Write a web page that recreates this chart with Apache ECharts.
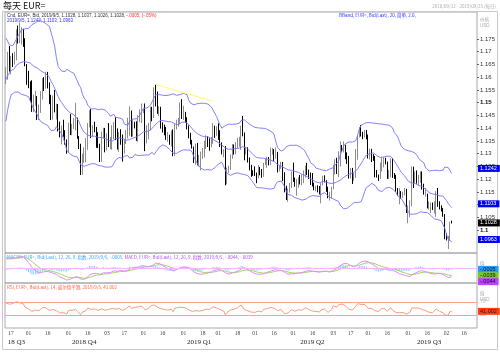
<!DOCTYPE html>
<html>
<head>
<meta charset="utf-8">
<script src="https://cdn.jsdelivr.net/npm/echarts@6/dist/echarts.min.js"></script>
<style>
  html, body { margin: 0; background: #fff; }
  #main { width: 500px; height: 352px; }
</style>
</head>
<body>
<div id="main"></div>
<script>
// 数据从 2018-08-15 开始，前 20 天只用于布林带/MACD/RSI 预热，图上从 2018-09-12 开始显示
var dataStart = '2018-08-15';
var viewStart = '2018-09-12';
var viewEnd = '2019-09-25';

// 每天 EUR= 的 [开, 高, 低, 收]，按月一行
var ohlc = [
  // 2018-08
  [1.1345,1.1350,1.1301,1.1345],[1.1345,1.1395,1.1341,1.1376],[1.1376,1.1444,1.1366,1.1438],[1.1438,1.1487,1.1423,1.1476],[1.1476,1.1570,1.1465,1.1570],[1.1570,1.1623,1.1545,1.1597],[1.1597,1.1600,1.1528,1.1540],[1.1540,1.1624,1.1530,1.1622],[1.1622,1.1690,1.1606,1.1680],[1.1680,1.1733,1.1668,1.1703],[1.1703,1.1712,1.1653,1.1707],[1.1707,1.1734,1.1661,1.1670],[1.1670,1.1682,1.1588,1.1601],
  // 2018-09
  [1.1601,1.1624,1.1571,1.1621],[1.1621,1.1625,1.1527,1.1583],[1.1583,1.1642,1.1512,1.1627],[1.1627,1.1667,1.1607,1.1622],[1.1622,1.1642,1.1532,1.1553],[1.1553,1.1605,1.1530,1.1597],[1.1597,1.1649,1.1570,1.1600],
  [1.1600,1.1640,1.1573,1.1627],[1.1627,1.1700,1.1590,1.1688],[1.1688,1.1722,1.1622,1.1625],[1.1625,1.1683,1.1611,1.1683],[1.1683,1.1694,1.1640,1.1667],[1.1667,1.1700,1.1650,1.1671],[1.1671,1.1788,1.1666,1.1778],[1.1778,1.1803,1.1732,1.1746],[1.1746,1.1815,1.1734,1.1748],[1.1748,1.1796,1.1728,1.1774],[1.1774,1.1790,1.1719,1.1739],[1.1739,1.1753,1.1643,1.1642],[1.1642,1.1652,1.1570,1.1604],
  // 2018-10
  [1.1604,1.1625,1.1557,1.1577],[1.1577,1.1584,1.1504,1.1547],[1.1547,1.1588,1.1464,1.1481],[1.1481,1.1532,1.1463,1.1513],[1.1513,1.1547,1.1488,1.1524],[1.1524,1.1526,1.1432,1.1490],[1.1490,1.1493,1.1432,1.1490],[1.1490,1.1545,1.1460,1.1520],[1.1520,1.1596,1.1512,1.1593],[1.1593,1.1600,1.1546,1.1561],[1.1561,1.1621,1.1555,1.1580],[1.1580,1.1621,1.1556,1.1573],[1.1573,1.1580,1.1494,1.1502],[1.1502,1.1531,1.1432,1.1452],[1.1452,1.1528,1.1433,1.1514],[1.1514,1.1550,1.1462,1.1464],[1.1464,1.1496,1.1434,1.1469],[1.1469,1.1495,1.1387,1.1393],[1.1393,1.1426,1.1364,1.1374],[1.1374,1.1410,1.1336,1.1400],[1.1400,1.1433,1.1366,1.1374],[1.1374,1.1392,1.1335,1.1346],[1.1346,1.1356,1.1300,1.1312],
  // 2018-11
  [1.1312,1.1421,1.1303,1.1408],[1.1408,1.1456,1.1373,1.1385],[1.1385,1.1417,1.1372,1.1405],[1.1405,1.1440,1.1397,1.1427],[1.1427,1.1500,1.1391,1.1430],[1.1430,1.1441,1.1358,1.1362],[1.1362,1.1369,1.1318,1.1336],[1.1336,1.1339,1.1216,1.1224],[1.1224,1.1300,1.1217,1.1294],[1.1294,1.1325,1.1264,1.1309],[1.1309,1.1361,1.1266,1.1332],[1.1332,1.1420,1.1315,1.1416],[1.1416,1.1472,1.1403,1.1454],[1.1454,1.1475,1.1361,1.1370],[1.1370,1.1412,1.1369,1.1404],[1.1404,1.1425,1.1384,1.1387],[1.1387,1.1405,1.1323,1.1337],[1.1337,1.1384,1.1322,1.1329],[1.1329,1.1339,1.1267,1.1289],[1.1289,1.1387,1.1268,1.1369],[1.1369,1.1401,1.1360,1.1394],[1.1394,1.1401,1.1305,1.1316],
  // 2018-12
  [1.1316,1.1380,1.1312,1.1352],[1.1352,1.1420,1.1326,1.1341],[1.1341,1.1365,1.1317,1.1342],[1.1342,1.1411,1.1316,1.1375],[1.1375,1.1424,1.1357,1.1406],[1.1406,1.1443,1.1353,1.1354],[1.1354,1.1399,1.1316,1.1318],[1.1318,1.1385,1.1307,1.1369],[1.1369,1.1396,1.1335,1.1368],[1.1368,1.1375,1.1269,1.1305],[1.1305,1.1356,1.1300,1.1345],[1.1345,1.1392,1.1338,1.1362],[1.1362,1.1441,1.1360,1.1375],[1.1375,1.1486,1.1370,1.1450],[1.1450,1.1469,1.1366,1.1370],[1.1370,1.1435,1.1367,1.1418],[1.1418,1.1425,1.1399,1.1409],[1.1409,1.1427,1.1350,1.1353],[1.1353,1.1451,1.1347,1.1432],[1.1432,1.1474,1.1423,1.1439],[1.1439,1.1497,1.1420,1.1466],
  // 2019-01
  [1.1466,1.1475,1.1459,1.1466],[1.1466,1.1497,1.1310,1.1343],[1.1343,1.1412,1.1340,1.1394],[1.1394,1.1420,1.1356,1.1395],[1.1395,1.1484,1.1391,1.1474],[1.1474,1.1484,1.1427,1.1441],[1.1441,1.1560,1.1440,1.1541],[1.1541,1.1570,1.1485,1.1502],[1.1502,1.1544,1.1456,1.1468],[1.1468,1.1487,1.1447,1.1470],[1.1470,1.1484,1.1398,1.1411],[1.1411,1.1423,1.1383,1.1394],[1.1394,1.1414,1.1372,1.1390],[1.1390,1.1405,1.1354,1.1364],[1.1364,1.1385,1.1347,1.1364],[1.1364,1.1374,1.1335,1.1361],[1.1361,1.1391,1.1328,1.1385],[1.1385,1.1395,1.1290,1.1303],[1.1303,1.1418,1.1290,1.1405],[1.1405,1.1433,1.1395,1.1430],[1.1430,1.1440,1.1406,1.1436],[1.1436,1.1501,1.1416,1.1482],[1.1482,1.1514,1.1436,1.1445],
  // 2019-02
  [1.1445,1.1488,1.1432,1.1456],[1.1456,1.1464,1.1422,1.1436],[1.1436,1.1443,1.1395,1.1408],[1.1408,1.1411,1.1360,1.1374],[1.1374,1.1382,1.1336,1.1341],[1.1341,1.1354,1.1320,1.1323],[1.1323,1.1328,1.1263,1.1275],[1.1275,1.1339,1.1257,1.1327],[1.1327,1.1342,1.1254,1.1265],[1.1265,1.1295,1.1249,1.1295],[1.1295,1.1308,1.1234,1.1295],[1.1295,1.1322,1.1280,1.1311],[1.1311,1.1350,1.1285,1.1340],[1.1340,1.1372,1.1318,1.1342],[1.1342,1.1368,1.1326,1.1338],[1.1338,1.1360,1.1311,1.1337],[1.1337,1.1366,1.1325,1.1357],[1.1357,1.1420,1.1338,1.1395],[1.1395,1.1410,1.1362,1.1371],[1.1371,1.1408,1.1370,1.1372],
  // 2019-03
  [1.1372,1.1419,1.1354,1.1363],[1.1363,1.1392,1.1326,1.1338],[1.1338,1.1344,1.1297,1.1307],[1.1307,1.1317,1.1286,1.1308],[1.1308,1.1330,1.1176,1.1194],[1.1194,1.1245,1.1180,1.1235],[1.1235,1.1253,1.1225,1.1246],[1.1246,1.1297,1.1236,1.1287],[1.1287,1.1338,1.1280,1.1327],[1.1327,1.1336,1.1296,1.1305],[1.1305,1.1345,1.1298,1.1325],[1.1325,1.1362,1.1322,1.1340],[1.1340,1.1366,1.1327,1.1350],[1.1350,1.1410,1.1315,1.1414],[1.1414,1.1448,1.1368,1.1373],[1.1373,1.1383,1.1274,1.1302],[1.1302,1.1326,1.1297,1.1312],[1.1312,1.1325,1.1265,1.1266],[1.1266,1.1285,1.1234,1.1250],[1.1250,1.1256,1.1209,1.1222],[1.1222,1.1235,1.1213,1.1218],
  // 2019-04
  [1.1218,1.1250,1.1212,1.1216],[1.1216,1.1226,1.1184,1.1208],[1.1208,1.1255,1.1203,1.1235],[1.1235,1.1248,1.1215,1.1220],[1.1220,1.1240,1.1205,1.1216],[1.1216,1.1264,1.1209,1.1260],[1.1260,1.1282,1.1255,1.1263],[1.1263,1.1288,1.1245,1.1276],[1.1276,1.1287,1.1254,1.1255],[1.1255,1.1324,1.1255,1.1297],[1.1297,1.1323,1.1296,1.1306],[1.1306,1.1318,1.1270,1.1286],[1.1286,1.1324,1.1280,1.1295],[1.1295,1.1307,1.1226,1.1235],[1.1235,1.1252,1.1230,1.1243],[1.1243,1.1268,1.1240,1.1256],[1.1256,1.1267,1.1192,1.1224],[1.1224,1.1227,1.1148,1.1153],[1.1153,1.1174,1.1118,1.1130],[1.1130,1.1164,1.1111,1.1149],[1.1149,1.1185,1.1147,1.1183],[1.1183,1.1230,1.1165,1.1214],
  // 2019-05
  [1.1214,1.1265,1.1189,1.1193],[1.1193,1.1206,1.1170,1.1172],[1.1172,1.1200,1.1135,1.1200],[1.1200,1.1207,1.1166,1.1201],[1.1201,1.1216,1.1179,1.1191],[1.1191,1.1218,1.1176,1.1191],[1.1191,1.1234,1.1184,1.1215],[1.1215,1.1252,1.1206,1.1234],[1.1234,1.1264,1.1216,1.1223],[1.1223,1.1237,1.1201,1.1205],[1.1205,1.1226,1.1177,1.1202],[1.1202,1.1224,1.1171,1.1174],[1.1174,1.1186,1.1156,1.1157],[1.1157,1.1174,1.1152,1.1164],[1.1164,1.1176,1.1148,1.1160],[1.1160,1.1173,1.1140,1.1152],[1.1152,1.1184,1.1105,1.1181],[1.1181,1.1213,1.1175,1.1204],[1.1204,1.1215,1.1187,1.1192],[1.1192,1.1196,1.1150,1.1160],[1.1160,1.1170,1.1125,1.1131],[1.1131,1.1150,1.1116,1.1131],[1.1131,1.1170,1.1124,1.1167],
  // 2019-06
  [1.1167,1.1256,1.1160,1.1240],[1.1240,1.1278,1.1218,1.1253],[1.1253,1.1284,1.1220,1.1221],[1.1221,1.1309,1.1208,1.1275],[1.1275,1.1348,1.1249,1.1332],[1.1332,1.1334,1.1307,1.1314],[1.1314,1.1348,1.1305,1.1327],[1.1327,1.1335,1.1278,1.1286],[1.1286,1.1305,1.1260,1.1275],[1.1275,1.1291,1.1202,1.1208],[1.1208,1.1243,1.1202,1.1220],[1.1220,1.1244,1.1181,1.1194],[1.1194,1.1225,1.1193,1.1220],[1.1220,1.1318,1.1204,1.1293],[1.1293,1.1372,1.1276,1.1370],[1.1370,1.1404,1.1364,1.1399],[1.1399,1.1412,1.1367,1.1368],[1.1368,1.1386,1.1357,1.1366],[1.1366,1.1392,1.1363,1.1372],[1.1372,1.1393,1.1356,1.1369],
  // 2019-07
  [1.1369,1.1375,1.1281,1.1284],[1.1284,1.1320,1.1277,1.1288],[1.1288,1.1319,1.1267,1.1285],[1.1285,1.1298,1.1272,1.1284],[1.1284,1.1291,1.1207,1.1225],[1.1225,1.1236,1.1206,1.1213],[1.1213,1.1218,1.1193,1.1209],[1.1209,1.1265,1.1200,1.1252],[1.1252,1.1286,1.1230,1.1256],[1.1256,1.1285,1.1246,1.1272],[1.1272,1.1284,1.1258,1.1262],[1.1262,1.1269,1.1201,1.1210],[1.1210,1.1236,1.1200,1.1223],[1.1223,1.1282,1.1207,1.1276],[1.1276,1.1283,1.1205,1.1220],[1.1220,1.1224,1.1201,1.1208],[1.1208,1.1217,1.1150,1.1150],[1.1150,1.1165,1.1135,1.1140],[1.1140,1.1164,1.1101,1.1143],[1.1143,1.1153,1.1123,1.1127],[1.1127,1.1150,1.1126,1.1139],[1.1139,1.1165,1.1136,1.1156],[1.1156,1.1162,1.1067,1.1075],
  // 2019-08
  [1.1075,1.1096,1.1027,1.1082],[1.1082,1.1117,1.1050,1.1108],[1.1108,1.1250,1.1093,1.1202],[1.1202,1.1249,1.1165,1.1199],[1.1199,1.1230,1.1185,1.1201],[1.1201,1.1234,1.1182,1.1182],[1.1182,1.1217,1.1176,1.1201],[1.1201,1.1231,1.1186,1.1215],[1.1215,1.1230,1.1159,1.1171],[1.1171,1.1182,1.1139,1.1138],[1.1138,1.1165,1.1131,1.1140],[1.1140,1.1143,1.1085,1.1090],[1.1090,1.1113,1.1080,1.1093],[1.1093,1.1108,1.1066,1.1096],[1.1096,1.1108,1.1079,1.1082],[1.1082,1.1113,1.1065,1.1084],[1.1084,1.1153,1.1052,1.1143],[1.1143,1.1165,1.1091,1.1099],[1.1099,1.1113,1.1081,1.1088],[1.1088,1.1097,1.1073,1.1078],[1.1078,1.1087,1.1052,1.1056],[1.1056,1.1063,1.0964,1.0985],
  // 2019-09
  [1.0985,1.0987,1.0959,1.0970],[1.0970,1.0977,1.0926,1.0973],[1.0973,1.1033,1.0958,1.1033],[1.1028,1.1037,1.1026,1.1028]
];

// 右侧价格刻度
var priceTicks = [1.1, 1.105, 1.11, 1.115, 1.12, 1.125, 1.13, 1.135, 1.14, 1.145, 1.15, 1.155, 1.16, 1.165, 1.17, 1.175];
// 底部日期刻度
var dayTicks = ['2018-09-17','2018-10-01','2018-10-16','2018-11-01','2018-11-16','2018-12-03','2018-12-17',
  '2019-01-01','2019-01-16','2019-02-01','2019-02-18','2019-03-01','2019-03-18','2019-04-01','2019-04-16',
  '2019-05-01','2019-05-16','2019-06-03','2019-06-17','2019-07-01','2019-07-16','2019-08-01','2019-08-16',
  '2019-09-02','2019-09-16'];
var quarterStarts = ['2018-10-01', '2019-01-01', '2019-04-01', '2019-07-01'];
var quarterNames = { '2018-09-20': '18 Q3', '2018-11-14': '2018 Q4', '2019-02-14': '2019 Q1', '2019-05-16': '2019 Q2', '2019-08-19': '2019 Q3' };
// 黄色趋势线
var trendLine = [['2019-01-10', 1.1572], ['2019-02-26', 1.1505]];
// 图上最后一天的读数
var lastClose = 1.1028;
var lastBand = [1.1242, 1.1103, 1.0963];
var lastMacd = [-0.0005, -0.0039, -0.0044]; // MACDF, 信号, MACD
var lastRsi = 41.002;

function weekdays(from, to) {
  var out = [];
  var d = new Date(from + 'T00:00:00Z');
  var end = new Date(to + 'T00:00:00Z');
  while (d <= end) {
    var w = d.getUTCDay();
    if (w !== 0 && w !== 6) out.push(d.toISOString().slice(0, 10));
    d.setUTCDate(d.getUTCDate() + 1);
  }
  return out;
}

var allDates = weekdays(dataStart, viewEnd);
var skip = allDates.indexOf(viewStart);
var dates = allDates.slice(skip);
var closes = ohlc.map(function (r) { return r[3]; });

// 布林带 20, 2.0
var bbUp = [], bbMid = [], bbLow = [];
closes.forEach(function (c, i) {
  if (i < 19) { bbUp.push('-'); bbMid.push('-'); bbLow.push('-'); return; }
  var win = closes.slice(i - 19, i + 1);
  var m = win.reduce(function (a, b) { return a + b; }, 0) / 20;
  var sd = Math.sqrt(win.reduce(function (a, b) { return a + (b - m) * (b - m); }, 0) / 20);
  bbMid.push(m); bbUp.push(m + 2 * sd); bbLow.push(m - 2 * sd);
});

// MACD 12, 26, 9
function ema(arr, n) {
  var k = 2 / (n + 1), prev, out = [];
  arr.forEach(function (v, i) { prev = i ? v * k + prev * (1 - k) : v; out.push(prev); });
  return out;
}
var e12 = ema(closes, 12), e26 = ema(closes, 26);
var macd = e12.map(function (v, i) { return v - e26[i]; });
var signal = ema(macd, 9);
var hist = macd.map(function (v, i) { return v - signal[i]; });

// RSI 14 威尔德平滑
var rsi = [], ag = 0, al = 0;
closes.forEach(function (c, i) {
  if (i === 0) { rsi.push('-'); return; }
  var ch = c - closes[i - 1], g = Math.max(ch, 0), l = Math.max(-ch, 0);
  if (i <= 14) { ag += g / 14; al += l / 14; }
  else { ag = (ag * 13 + g) / 14; al = (al * 13 + l) / 14; }
  rsi.push(i < 14 ? '-' : 100 - 100 / (1 + ag / al));
});

function cut(arr) { return arr.slice(skip); }
var candles = cut(ohlc).map(function (r) { return [r[0], r[3], r[2], r[1]]; });

// 右侧的最新值标签（透明的 markLine，只留标签）
var hidden = { color: 'rgba(0,0,0,0)', width: 0 };
var tagLabel = { position: 'end', distance: 1, fontSize: 5.5, fontFamily: 'Liberation Sans', padding: [1, 3, 0, 2] };
function tag(v, text, bg, fg, dy) {
  return { yAxis: v, lineStyle: hidden,
    label: { show: true, formatter: text, backgroundColor: bg, color: fg, offset: [0, dy || 0] } };
}
function line(v, color) {
  return { yAxis: v, lineStyle: { color: color, width: 1, type: 'solid' }, label: { show: false } };
}
function marks(list) {
  return { silent: true, symbol: 'none', animation: false, precision: 4, label: tagLabel, data: list };
}

var chart = echarts.init(document.getElementById('main'), null, { renderer: 'canvas' });
var L = 5, R = 23, bandColor = '#7373ff';
var fontAxis = 'Liberation Sans';

var option = {
  animation: false,
  backgroundColor: '#fff',
  grid: [
    { left: L, right: R, top: 12, height: 241, show: true, borderColor: '#a8a8a8', borderWidth: 1 },
    { left: L, right: R, top: 253, height: 30, show: true, borderColor: '#a8a8a8', borderWidth: 1 },
    { left: L, right: R, top: 283, height: 45, show: true, borderColor: '#a8a8a8', borderWidth: 1 }
  ],
  xAxis: [
    { type: 'category', gridIndex: 0, data: dates, axisLine: { show: false }, axisTick: { show: false }, axisLabel: { show: false } },
    { type: 'category', gridIndex: 1, data: dates, axisLine: { show: false }, axisTick: { show: false }, axisLabel: { show: false } },
    {
      type: 'category', gridIndex: 2, data: dates, axisLine: { show: false },
      axisTick: { alignWithLabel: true, length: 2, lineStyle: { color: '#888' },
        interval: function (i, v) { return dayTicks.indexOf(v) >= 0; } },
      axisLabel: { margin: 3, fontSize: 5.5, color: '#444', fontFamily: 'Liberation Serif',
        interval: function (i, v) { return dayTicks.indexOf(v) >= 0; },
        formatter: function (v) { return v.slice(8); } }
    },
    {
      type: 'category', gridIndex: 2, data: dates, position: 'bottom', offset: 11, axisLine: { show: false },
      axisTick: { length: 8, lineStyle: { color: '#333' },
        interval: function (i, v) { return quarterStarts.indexOf(v) >= 0; } },
      axisLabel: { margin: 0, fontSize: 7, color: '#222', fontFamily: 'Liberation Serif',
        interval: function (i, v) { return !!quarterNames[v]; },
        formatter: function (v) { return quarterNames[v] || ''; } }
    }
  ],
  yAxis: [
    {
      type: 'value', gridIndex: 0, position: 'right', min: 1.091, max: 1.1856,
      splitLine: { show: false },
      axisLine: { show: false },
      axisTick: { show: true, length: 2, customValues: priceTicks, lineStyle: { color: '#666' } },
      axisLabel: { customValues: priceTicks, margin: 3, fontSize: 6, color: '#333', fontFamily: fontAxis,
        formatter: function (v) {
          var s = String(+v.toFixed(3));
          return Math.abs(v * 20 - Math.round(v * 20)) < 1e-6 ? '{b|' + s + '}' : s;
        },
        rich: { b: { fontWeight: 'bold', fontSize: 6, fontFamily: fontAxis, color: '#111' } } }
    },
    { type: 'value', gridIndex: 1, position: 'right', min: -0.0078, max: 0.0083,
      splitLine: { show: false }, axisLine: { show: false }, axisTick: { show: false }, axisLabel: { show: false } },
    { type: 'value', gridIndex: 2, position: 'right', min: -10, max: 128,
      splitLine: { show: false }, axisLine: { show: false },
      axisTick: { show: false },
      axisLabel: { customValues: [30, 70], fontSize: 5, color: '#bbb', margin: 3, fontFamily: fontAxis } }
  ],
  series: [
    {
      type: 'candlestick', xAxisIndex: 0, yAxisIndex: 0, data: candles, barWidth: 1.3,
      itemStyle: { color: '#a0a0a0', color0: '#000', borderColor: '#8c8c8c', borderColor0: '#000', borderWidth: 1 },
      markLine: marks([tag(lastClose, '1.1028', '#000', '#fff')])
    },
    { type: 'line', xAxisIndex: 0, yAxisIndex: 0, data: cut(bbUp), showSymbol: false, lineStyle: { color: bandColor, width: 0.9 },
      markLine: marks([tag(lastBand[0], '1.1242', '#0000f0', '#fff')]) },
    { type: 'line', xAxisIndex: 0, yAxisIndex: 0, data: cut(bbMid), showSymbol: false, lineStyle: { color: bandColor, width: 0.9 },
      markLine: marks([tag(lastBand[1], '1.1103', '#0000f0', '#fff')]) },
    { type: 'line', xAxisIndex: 0, yAxisIndex: 0, data: cut(bbLow), showSymbol: false, lineStyle: { color: bandColor, width: 0.9 },
      markLine: marks([tag(lastBand[2], '1.0963', '#0000f0', '#fff')]) },
    { type: 'line', xAxisIndex: 0, yAxisIndex: 0, data: trendLine, showSymbol: false, lineStyle: { color: '#ffff66', width: 1 } },
    {
      type: 'bar', xAxisIndex: 1, yAxisIndex: 1, data: cut(hist), barWidth: 1, itemStyle: { color: '#8fd0ff' },
      markLine: marks([tag(lastMacd[0], '-.0005', '#2a9df4', '#111')])
    },
    {
      type: 'line', xAxisIndex: 1, yAxisIndex: 1, data: cut(signal), showSymbol: false, lineStyle: { color: '#9bdc5a', width: 1 },
      markLine: marks([tag(lastMacd[1], '-.0039', '#77cc22', '#111')])
    },
    {
      type: 'line', xAxisIndex: 1, yAxisIndex: 1, data: cut(macd), showSymbol: false, lineStyle: { color: '#e08cff', width: 1 },
      markLine: marks([line(0, '#f0b8ff'), tag(lastMacd[2], '-.0044', '#c040ff', '#111', 5)])
    },
    {
      type: 'line', xAxisIndex: 2, yAxisIndex: 2, data: cut(rsi), showSymbol: false, lineStyle: { color: '#ff9a80', width: 1 },
      markLine: marks([line(70, '#ffa28c'), line(30, '#ffa28c'), tag(lastRsi, '41.002', '#ff4010', '#222')])
    }
  ],
  graphic: [
    { type: 'rect', silent: true, shape: { x: 2.5, y: 11.5, width: 495, height: 338 }, style: { fill: null, stroke: '#c8c8c8', lineWidth: 1 } },
    { type: 'text', x: 3, y: 1, style: { text: '每天 EUR=', font: '9px "Noto Sans CJK SC"', fill: '#111' } },
    { type: 'text', x: 496, y: 4, style: { text: '2018/09/12 - 2019/09/25 (每日)', font: '4.5px "Noto Sans CJK SC"', fill: '#aaa', align: 'right' } },
    { type: 'text', x: 7, y: 13, style: {
      text: '{a|Cnd, EUR=, Bid, 2019/9/5, 1.1028, 1.1037, 1.1026, 1.1028, }{b|-.0005, (-.05%)}',
      rich: { a: { fill: '#333', font: '4.5px "Liberation Sans"' }, b: { fill: '#ff3030', font: '4.5px "Liberation Sans"' } } } },
    { type: 'text', x: 7, y: 18, style: { text: '2019/9/5, 1.1242, 1.1103, 1.0963', font: '4.5px "Liberation Sans"', fill: '#3030ff' } },
    { type: 'text', x: 339, y: 13, style: { text: 'BBand, EUR=, Bid(Last), 20, 简单, 2.0,', font: '4.5px "Noto Sans CJK SC"', fill: '#3030ff' } },
    { type: 'text', x: 480, y: 17, style: { text: '价格', font: '4.5px "Noto Sans CJK SC"', fill: '#aaa' } },
    { type: 'text', x: 480, y: 23, style: { text: 'USD', font: '4.5px "Liberation Sans"', fill: '#aaa' } },
    { type: 'text', x: 7, y: 255, style: {
      text: '{a|MACDF, EUR=, Bid(Last), 12, 26, 9, 指数, 2019/9/5, -.0005, }{b|MACD, EUR=, Bid(Last), 12, 26, 9, 指数, 2019/9/5, -.0044, -.0039}',
      rich: { a: { fill: '#3aa0ff', font: '4.5px "Noto Sans CJK SC"' }, b: { fill: '#b050f0', font: '4.5px "Noto Sans CJK SC"' } } } },
    { type: 'text', x: 480, y: 261, style: { text: '值', font: '4.5px "Noto Sans CJK SC"', fill: '#aaa' } },
    { type: 'text', x: 7, y: 285, style: { text: 'RSI, EUR=, Bid(Last), 14, 威尔德平滑, 2019/9/5, 41.002', font: '4.5px "Noto Sans CJK SC"', fill: '#ff6040' } },
    { type: 'text', x: 480, y: 291, style: { text: '值', font: '4.5px "Noto Sans CJK SC"', fill: '#aaa' } },
    { type: 'text', x: 480, y: 297, style: { text: 'USD', font: '4.5px "Liberation Sans"', fill: '#aaa' } }
  ]
};
chart.setOption(option);
</script>
</body>
</html>
